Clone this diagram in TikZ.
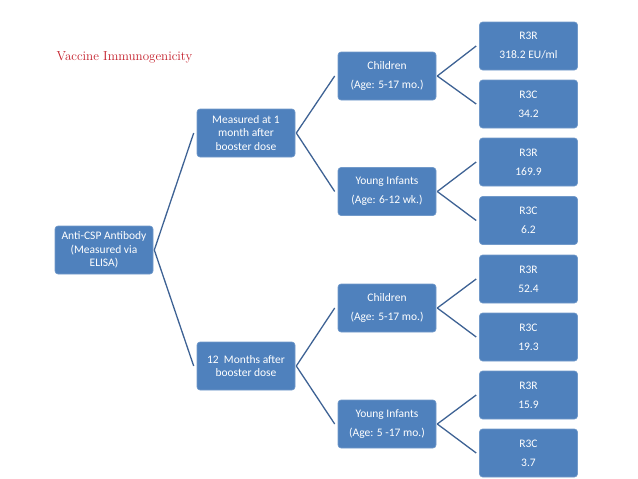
\documentclass[tikz,border=0pt]{standalone}
\usepackage{fontspec}
\setsansfont{Carlito}
\definecolor{boxblue}{RGB}{79,129,189}
\definecolor{lineblue}{RGB}{62,98,148}
\definecolor{titlered}{RGB}{195,30,42}
\begin{document}
\begin{tikzpicture}[x=1pt,y=-1pt,
  box/.style={draw=boxblue!80!white,line width=0.6pt,fill=boxblue,rounded corners=3pt,
    minimum width=98pt,minimum height=48pt,inner sep=1pt,align=center,text=white,
    font=\sffamily\fontsize{11.5}{13.3}\selectfont},
  tall/.style={box,font=\sffamily\fontsize{11.5}{19}\selectfont},
  link/.style={draw=lineblue,line width=1.3pt}]
\useasboundingbox (0,0) rectangle (638,479);
\node[text=titlered,font=\fontsize{13}{15}\selectfont,anchor=west] (title) at (53,57) {Vaccine Immunogenicity};
\node[box] (root) at (104,250) {Anti-CSP Antibody\\(Measured via\\ELISA)};
\node[box] (m1) at (246,133) {Measured at 1\\month after\\booster dose};
\node[box] (m12) at (246,366) {12\ \ Months after\\booster dose};
\node[tall] (c1) at (387,76) {Children\\(Age: 5-17 mo.)};
\node[tall] (y1) at (387,191.5) {Young Infants\\(Age: 6-12 wk.)};
\node[tall] (c2) at (387,308) {Children\\(Age: 5-17 mo.)};
\node[tall] (y2) at (387,424) {Young Infants\\(Age: 5 -17 mo.)};
\node[tall] (a1) at (528.5,46) {R3R\\318.2 EU/ml};
\node[tall] (a2) at (528.5,104) {R3C\\34.2};
\node[tall] (a3) at (528.5,162) {R3R\\169.9};
\node[tall] (a4) at (528.5,220.5) {R3C\\6.2};
\node[tall] (a5) at (528.5,279) {R3R\\52.4};
\node[tall] (a6) at (528.5,337) {R3C\\19.3};
\node[tall] (a7) at (528.5,395) {R3R\\15.9};
\node[tall] (a8) at (528.5,453) {R3C\\3.7};
\draw[link] ([xshift=1pt]root.east) -- ([xshift=-3pt]m1.west);
\draw[link] ([xshift=1pt]root.east) -- ([xshift=-3pt]m12.west);
\draw[link] ([xshift=1pt]m1.east) -- ([xshift=-3pt]c1.west);
\draw[link] ([xshift=1pt]m1.east) -- ([xshift=-3pt]y1.west);
\draw[link] ([xshift=1pt]m12.east) -- ([xshift=-3pt]c2.west);
\draw[link] ([xshift=1pt]m12.east) -- ([xshift=-3pt]y2.west);
\draw[link] ([xshift=1pt]c1.east) -- ([xshift=-3pt]a1.west);
\draw[link] ([xshift=1pt]c1.east) -- ([xshift=-3pt]a2.west);
\draw[link] ([xshift=1pt]y1.east) -- ([xshift=-3pt]a3.west);
\draw[link] ([xshift=1pt]y1.east) -- ([xshift=-3pt]a4.west);
\draw[link] ([xshift=1pt]c2.east) -- ([xshift=-3pt]a5.west);
\draw[link] ([xshift=1pt]c2.east) -- ([xshift=-3pt]a6.west);
\draw[link] ([xshift=1pt]y2.east) -- ([xshift=-3pt]a7.west);
\draw[link] ([xshift=1pt]y2.east) -- ([xshift=-3pt]a8.west);
\end{tikzpicture}
\end{document}
